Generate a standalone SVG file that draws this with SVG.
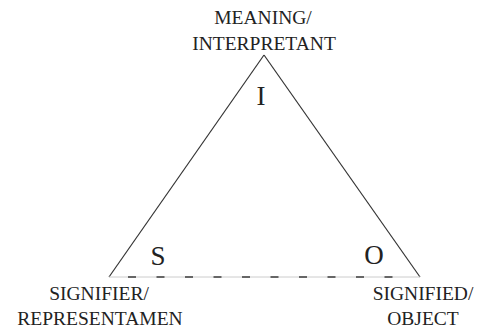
<svg xmlns="http://www.w3.org/2000/svg" width="480" height="334" viewBox="0 0 480 334">
<style>
.lbl{font-family:"Liberation Serif","Times New Roman",serif;font-size:19.5px;fill:#222;text-anchor:middle}
.big{font-family:"Liberation Serif","Times New Roman",serif;font-size:27px;fill:#222;text-anchor:middle}
.edge{stroke:#333;stroke-width:1.2;fill:none}
</style>
<rect width="480" height="334" fill="#fff"/>
<g id="connectors">
<line class="edge" x1="264" y1="55" x2="109" y2="277"/>
<line class="edge" x1="264" y1="55" x2="420" y2="277"/>
<line x1="109" y1="277" x2="420" y2="277" stroke="#ccc" stroke-width="1"/>
<line x1="128" y1="277" x2="410" y2="277" stroke="#666" stroke-width="2" stroke-dasharray="8 20.5"/>
</g>
<g id="node-interpretant">
<text class="lbl" x="263" y="24">MEANING/</text>
<text class="lbl" x="264" y="50">INTERPRETANT</text>
<text class="big" x="261" y="105">I</text>
</g>
<g id="node-representamen">
<text class="lbl" x="99" y="300">SIGNIFIER/</text>
<text class="lbl" x="100" y="325">REPRESENTAMEN</text>
<text class="big" x="158" y="265">S</text>
</g>
<g id="node-object">
<text class="lbl" x="423" y="300">SIGNIFIED/</text>
<text class="lbl" x="423" y="325">OBJECT</text>
<text class="big" x="374" y="264">O</text>
</g>
</svg>
